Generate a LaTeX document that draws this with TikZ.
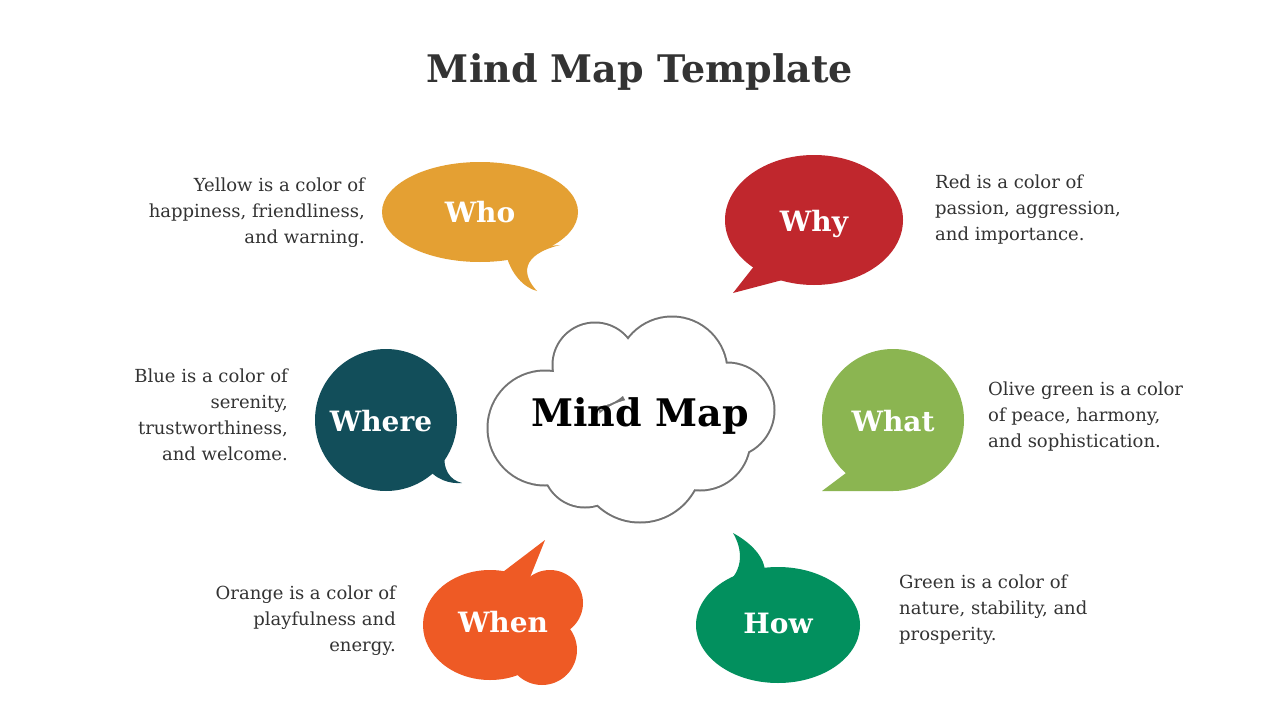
\documentclass[tikz,border=0pt]{standalone}
\usepackage{fontspec}
\setmainfont{DejaVu Serif}
\definecolor{cyel}{HTML}{E4A033}
\definecolor{cred}{HTML}{C0272D}
\definecolor{cblue}{HTML}{124E5A}
\definecolor{colive}{HTML}{8BB551}
\definecolor{corange}{HTML}{EE5A25}
\definecolor{cgreen}{HTML}{02905E}
\definecolor{ctext}{HTML}{333333}
\begin{document}
\begin{tikzpicture}[x=1pt,y=-1pt,
  desc/.style={font=\fontsize{18}{26}\selectfont,text=ctext,inner sep=0pt},
  lbl/.style={font=\fontsize{28}{30}\selectfont\bfseries,text=white},
  cloudc/.style={fill=white}]
\useasboundingbox[fill=white] (0,0) rectangle (1280,720);
\node[font=\fontsize{38}{40}\selectfont\bfseries,text=ctext] (title) at (640,72) {Mind Map Template};
% Who
\fill[cyel] (480,212) ellipse [x radius=98,y radius=50];
\fill[cyel] (505,250) .. controls (510,275) and (525,288) .. (537,291) .. controls (522,275) and (520,255) .. (560,245) -- cycle;
\node[lbl] (who) at (480,212) {Who};
% Why
\fill[cred] (814,220) ellipse [x radius=89,y radius=65];
\fill[cred] (755,265) -- (733,293) -- (790,278) -- cycle;
\node[lbl] (why) at (814,224) {Why};
% Where
\fill[cblue] (386,420) circle (71);
\fill[cblue] (425,465) .. controls (435,480) and (450,484) .. (462,483) .. controls (450,480) and (442,470) .. (445,450) -- cycle;
\node[lbl] (where) at (381,421) {Where};
% What
\fill[colive] (893,420) circle (71);
\fill[colive] (850,470) -- (822,491) -- (893,491) -- cycle;
\node[lbl] (what) at (893,421) {What};
% When
\fill[corange] (490,625) ellipse [x radius=67,y radius=55];
\fill[corange] (550,603) circle (33);
\fill[corange] (542,650) circle (35);
\fill[corange] (495,578) -- (545,540) -- (525,590) -- cycle;
\node[lbl] (when) at (503,622) {When};
% How
\fill[cgreen] (778,625) ellipse [x radius=82,y radius=58];
\fill[cgreen] (725,585) .. controls (745,570) and (742,548) .. (733,533) .. controls (755,545) and (765,560) .. (765,572) -- cycle;
\node[lbl] (how) at (778,623) {How};
% Cloud
\begin{scope}
\foreach \p/\r in {{(595,365)}/42,{(672,372)}/55,{(727,410)}/47,{(545,428)}/57,{(640,460)}/62,{(700,440)}/50,{(585,465)}/42}
  \fill[gray!90!black] \p circle (\r+1.5);
\foreach \p/\r in {{(595,365)}/42,{(672,372)}/55,{(727,410)}/47,{(545,428)}/57,{(640,460)}/62,{(700,440)}/50,{(585,465)}/42}
  \fill[white] \p circle (\r-0.5);
\end{scope}
\node[font=\fontsize{38}{40}\selectfont\bfseries] (mm) at (640,416) {Mind Map};
% Descriptions
\node[desc,anchor=north east,align=right] (d1) at (365,178) {Yellow is a color of\\happiness, friendliness,\\and warning.};
\node[desc,anchor=north west,align=left] (d2) at (935,175) {Red is a color of\\passion, aggression,\\and importance.};
\node[desc,anchor=north east,align=right] (d3) at (288,369) {Blue is a color of\\serenity,\\trustworthiness,\\and welcome.};
\node[desc,anchor=north west,align=left] (d4) at (988,382) {Olive green is a color\\of peace, harmony,\\and sophistication.};
\node[desc,anchor=north east,align=right] (d5) at (396,586) {Orange is a color of\\playfulness and\\energy.};
\node[desc,anchor=north west,align=left] (d6) at (899,575) {Green is a color of\\nature, stability, and\\prosperity.};
\end{tikzpicture}
\end{document}
